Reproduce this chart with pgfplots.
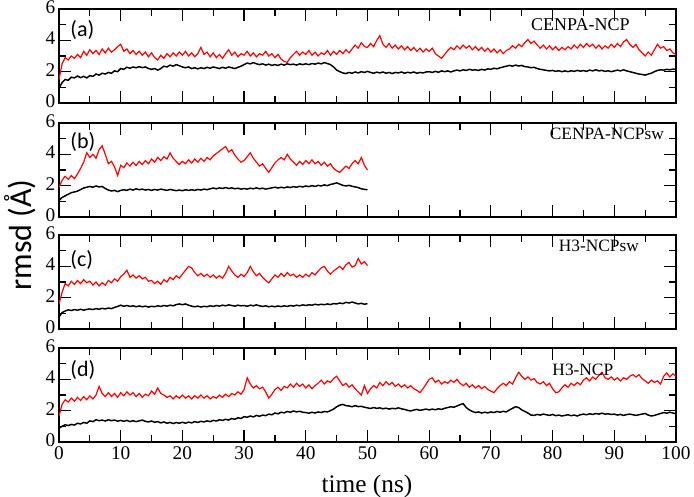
\documentclass[border=0pt]{standalone}
\usepackage{pgfplots}
\usepackage{pgfplotstable}
\pgfplotsset{compat=1.18}
\usepackage{fontspec}
\setmainfont{Liberation Serif}
\newfontfamily\calfont{Carlito}

\pgfplotstableread[row sep=\\]{
t r k\\
0 1.5 0.95\\ 0.5 2.5 1.3\\ 1 2.9 1.5\\ 1.5 2.75 1.45\\ 2 3.0 1.65\\ 2.5 2.85 1.6\\ 3 3.1 1.72\\ 3.5 2.9 1.62\\ 4 3.3 1.7\\ 4.5 3.05 1.6\\
5 3.4 1.75\\ 5.5 3.15 1.7\\ 6 3.35 1.85\\ 6.5 3.1 1.78\\ 7 3.45 1.9\\ 7.5 3.2 1.85\\ 8 3.5 1.95\\ 8.5 3.25 1.9\\ 9 3.4 2.05\\ 9.5 3.6 2.0\\
10 3.75 2.2\\ 10.5 3.3 2.15\\ 11 3.45 2.28\\ 11.5 3.15 2.22\\ 12 3.35 2.3\\ 12.5 3.1 2.25\\ 13 3.3 2.32\\ 13.5 3.05 2.26\\ 14 3.25 2.3\\ 14.5 2.95 2.2\\
15 3.2 2.15\\ 15.5 2.9 2.2\\ 16 2.75 2.1\\ 16.5 3.05 2.2\\ 17 2.85 2.35\\ 17.5 3.15 2.3\\ 18 2.95 2.42\\ 18.5 3.2 2.35\\ 19 3.0 2.45\\ 19.5 3.25 2.38\\
20 3.05 2.3\\ 20.5 3.3 2.25\\ 21 3.0 2.3\\ 21.5 3.2 2.2\\ 22 2.95 2.25\\ 22.5 3.15 2.18\\ 23 3.55 2.25\\ 23.5 3.1 2.2\\ 24 3.25 2.28\\ 24.5 2.95 2.22\\
25 3.2 2.3\\ 25.5 2.9 2.25\\ 26 3.1 2.2\\ 26.5 2.85 2.28\\ 27 3.15 2.22\\ 27.5 3.4 2.3\\ 28 3.05 2.25\\ 28.5 3.25 2.2\\ 29 2.95 2.28\\ 29.5 3.15 2.35\\
30 3.05 2.45\\ 30.5 3.3 2.55\\ 31 3.0 2.5\\ 31.5 3.2 2.58\\ 32 2.95 2.5\\ 32.5 3.15 2.45\\ 33 3.05 2.5\\ 33.5 3.3 2.42\\ 34 3.0 2.48\\ 34.5 3.15 2.4\\
35 2.9 2.45\\ 35.5 3.1 2.4\\ 36 2.8 2.48\\ 36.5 2.65 2.42\\ 37 2.6 2.5\\ 37.5 2.9 2.45\\ 38 3.1 2.48\\ 38.5 3.3 2.42\\ 39 3.05 2.5\\ 39.5 3.25 2.45\\
40 3.1 2.5\\ 40.5 3.35 2.45\\ 41 3.05 2.52\\ 41.5 3.25 2.48\\ 42 3.0 2.55\\ 42.5 3.2 2.5\\ 43 3.1 2.58\\ 43.5 3.35 2.52\\ 44 3.05 2.45\\ 44.5 3.3 2.3\\
45 3.1 2.1\\ 45.5 3.35 2.0\\ 46 3.15 1.92\\ 46.5 3.4 1.88\\ 47 3.2 1.95\\ 47.5 3.45 1.9\\ 48 3.7 1.98\\ 48.5 3.5 1.92\\ 49 3.85 2.0\\ 49.5 3.6 1.95\\
50 3.55 2.02\\ 50.5 3.8 1.95\\ 51 3.6 1.9\\ 51.5 4.0 1.97\\ 52 4.3 1.92\\ 52.5 3.75 1.98\\ 53 3.55 1.9\\ 53.5 3.8 1.95\\ 54 3.5 1.88\\ 54.5 3.7 1.95\\
55 3.45 1.92\\ 55.5 3.65 1.98\\ 56 3.4 1.9\\ 56.5 3.6 1.96\\ 57 3.35 1.92\\ 57.5 3.55 1.98\\ 58 3.3 1.9\\ 58.5 3.5 1.95\\ 59 3.25 1.92\\ 59.5 3.45 1.98\\
60 3.3 2.0\\ 60.5 3.5 1.95\\ 61 3.15 2.02\\ 61.5 3.0 1.96\\ 62 2.85 2.05\\ 62.5 3.1 2.0\\ 63 3.35 2.05\\ 63.5 3.55 1.98\\ 64 3.4 2.05\\ 64.5 3.65 2.1\\
65 3.45 2.05\\ 65.5 3.7 2.12\\ 66 3.5 2.08\\ 66.5 3.65 2.15\\ 67 3.4 2.1\\ 67.5 3.6 2.12\\ 68 3.35 2.08\\ 68.5 3.55 2.15\\ 69 3.3 2.1\\ 69.5 3.5 2.18\\
70 3.25 2.15\\ 70.5 3.45 2.22\\ 71 3.2 2.18\\ 71.5 3.4 2.25\\ 72 3.15 2.3\\ 72.5 3.35 2.35\\ 73 3.45 2.4\\ 73.5 3.65 2.35\\ 74 3.5 2.42\\ 74.5 3.75 2.36\\
75 3.6 2.4\\ 75.5 3.85 2.32\\ 76 4.05 2.3\\ 76.5 3.8 2.25\\ 77 3.95 2.28\\ 77.5 3.7 2.2\\ 78 3.5 2.15\\ 78.5 3.7 2.12\\ 79 3.45 2.08\\ 79.5 3.65 2.05\\
80 3.4 2.08\\ 80.5 3.6 2.02\\ 81 3.35 2.06\\ 81.5 3.55 2.0\\ 82 3.4 2.05\\ 82.5 3.6 2.0\\ 83 3.45 2.06\\ 83.5 3.7 2.02\\ 84 3.5 2.08\\ 84.5 3.75 2.03\\
85 3.55 2.07\\ 85.5 3.8 2.02\\ 86 3.6 2.1\\ 86.5 3.75 2.05\\ 87 3.5 2.12\\ 87.5 3.7 2.05\\ 88 3.45 2.08\\ 88.5 3.65 2.02\\ 89 3.5 2.06\\ 89.5 3.75 2.0\\
90 3.55 2.05\\ 90.5 3.8 2.1\\ 91 3.6 2.05\\ 91.5 3.9 2.12\\ 92 4.05 2.05\\ 92.5 3.75 2.0\\ 93 3.55 1.95\\ 93.5 3.75 1.9\\ 94 3.4 1.85\\ 94.5 3.2 1.82\\
95 3.0 1.78\\ 95.5 3.25 1.85\\ 96 3.05 1.9\\ 96.5 3.4 2.0\\ 97 3.75 2.08\\ 97.5 3.5 2.12\\ 98 3.6 2.1\\ 98.5 3.35 2.15\\ 99 3.45 2.12\\ 99.5 3.2 2.16\\
100 3.1 2.15\\
}\tabA

\pgfplotstableread[row sep=\\]{
t r k\\
0 1.9 1.05\\ 0.5 2.35 1.25\\ 1 2.6 1.35\\ 1.5 2.4 1.45\\ 2 2.65 1.55\\ 2.5 2.45 1.6\\ 3 2.75 1.65\\ 3.5 3.1 1.75\\ 4 3.5 1.85\\ 4.5 4.1 1.9\\
5 3.8 1.95\\ 5.5 4.0 1.9\\ 6 3.75 1.98\\ 6.5 4.3 1.92\\ 7 4.55 1.95\\ 7.5 4.0 1.82\\ 8 3.4 1.72\\ 8.5 3.55 1.66\\ 9 3.2 1.7\\ 9.5 2.65 1.62\\
10 3.3 1.7\\ 10.5 3.15 1.74\\ 11 3.45 1.7\\ 11.5 3.25 1.78\\ 12 3.5 1.72\\ 12.5 3.3 1.8\\ 13 3.55 1.74\\ 13.5 3.35 1.78\\ 14 3.6 1.72\\ 14.5 3.4 1.76\\
15 3.7 1.7\\ 15.5 3.5 1.76\\ 16 3.8 1.72\\ 16.5 3.6 1.78\\ 17 3.85 1.74\\ 17.5 3.7 1.7\\ 18 4.1 1.76\\ 18.5 3.75 1.72\\ 19 3.55 1.68\\ 19.5 3.35 1.72\\
20 3.55 1.68\\ 20.5 3.4 1.74\\ 21 3.65 1.7\\ 21.5 3.45 1.74\\ 22 3.7 1.7\\ 22.5 3.5 1.76\\ 23 3.75 1.72\\ 23.5 3.55 1.78\\ 24 3.8 1.74\\ 24.5 3.65 1.8\\
25 3.9 1.85\\ 25.5 4.05 1.8\\ 26 4.2 1.86\\ 26.5 4.35 1.82\\ 27 4.5 1.88\\ 27.5 4.15 1.82\\ 28 4.3 1.86\\ 28.5 3.95 1.8\\ 29 3.7 1.84\\ 29.5 3.5 1.78\\
30 3.6 1.82\\ 30.5 3.85 1.78\\ 31 4.1 1.84\\ 31.5 3.75 1.8\\ 32 3.5 1.86\\ 32.5 3.25 1.8\\ 33 3.4 1.84\\ 33.5 3.1 1.78\\ 34 2.85 1.82\\ 34.5 3.15 1.86\\
35 3.45 1.9\\ 35.5 3.65 1.85\\ 36 3.8 1.9\\ 36.5 3.65 1.86\\ 37 4.0 1.92\\ 37.5 3.7 1.88\\ 38 3.5 1.94\\ 38.5 3.3 1.9\\ 39 3.55 1.96\\ 39.5 3.35 1.92\\
40 3.6 1.98\\ 40.5 3.4 1.94\\ 41 3.65 2.0\\ 41.5 3.4 1.95\\ 42 3.55 2.02\\ 42.5 3.3 1.98\\ 43 3.5 2.05\\ 43.5 3.25 2.0\\ 44 3.4 2.08\\ 44.5 3.1 2.12\\
45 2.95 2.18\\ 45.5 2.85 2.1\\ 46 3.05 2.02\\ 46.5 3.25 1.98\\ 47 3.1 2.02\\ 47.5 3.4 1.96\\ 48 3.6 1.92\\ 48.5 3.4 1.88\\ 49 3.8 1.8\\ 49.5 3.3 1.76\\
50 3.0 1.75\\
}\tabB

\pgfplotstableread[row sep=\\]{
t r k\\
0 1.6 0.75\\ 0.5 2.35 1.05\\ 1 2.9 1.15\\ 1.5 2.75 1.22\\ 2 3.05 1.18\\ 2.5 2.85 1.24\\ 3 3.1 1.2\\ 3.5 2.9 1.26\\ 4 3.15 1.2\\ 4.5 2.95 1.25\\
5 3.05 1.28\\ 5.5 2.8 1.24\\ 6 3.0 1.3\\ 6.5 2.75 1.26\\ 7 2.95 1.32\\ 7.5 2.8 1.28\\ 8 3.1 1.34\\ 8.5 2.95 1.3\\ 9 3.2 1.38\\ 9.5 3.05 1.44\\
10 3.35 1.52\\ 10.5 3.5 1.45\\ 11 3.75 1.5\\ 11.5 3.3 1.44\\ 12 3.45 1.48\\ 12.5 3.25 1.42\\ 13 3.4 1.47\\ 13.5 3.2 1.42\\ 14 3.3 1.46\\ 14.5 3.05 1.4\\
15 3.1 1.45\\ 15.5 2.9 1.42\\ 16 3.05 1.48\\ 16.5 2.85 1.44\\ 17 3.15 1.5\\ 17.5 3.0 1.46\\ 18 3.3 1.52\\ 18.5 3.15 1.48\\ 19 3.4 1.56\\ 19.5 3.25 1.6\\
20 3.5 1.55\\ 20.5 3.75 1.6\\ 21 4.0 1.52\\ 21.5 3.9 1.46\\ 22 3.6 1.42\\ 22.5 3.4 1.46\\ 23 3.55 1.4\\ 23.5 3.35 1.45\\ 24 3.5 1.42\\ 24.5 3.3 1.48\\
25 3.45 1.44\\ 25.5 3.25 1.5\\ 26 3.4 1.46\\ 26.5 3.25 1.52\\ 27 3.55 1.48\\ 27.5 4.0 1.54\\ 28 3.7 1.5\\ 28.5 3.45 1.46\\ 29 3.3 1.52\\ 29.5 3.5 1.48\\
30 3.35 1.5\\ 30.5 3.6 1.45\\ 31 4.0 1.52\\ 31.5 3.65 1.48\\ 32 3.4 1.54\\ 32.5 3.55 1.48\\ 33 3.3 1.44\\ 33.5 3.1 1.48\\ 34 2.95 1.42\\ 34.5 3.2 1.46\\
35 3.45 1.42\\ 35.5 3.3 1.47\\ 36 3.55 1.43\\ 36.5 3.35 1.48\\ 37 3.6 1.44\\ 37.5 3.4 1.5\\ 38 3.5 1.46\\ 38.5 3.3 1.52\\ 39 3.45 1.48\\ 39.5 3.3 1.54\\
40 3.5 1.5\\ 40.5 3.35 1.55\\ 41 3.6 1.52\\ 41.5 3.45 1.58\\ 42 3.7 1.54\\ 42.5 3.9 1.58\\ 43 4.0 1.55\\ 43.5 3.7 1.6\\ 44 3.5 1.56\\ 44.5 3.7 1.62\\
45 3.85 1.6\\ 45.5 4.0 1.66\\ 46 3.8 1.62\\ 46.5 4.1 1.7\\ 47 4.25 1.66\\ 47.5 3.95 1.72\\ 48 4.05 1.66\\ 48.5 4.5 1.6\\ 49 4.15 1.64\\ 49.5 4.3 1.58\\
50 4.05 1.62\\
}\tabC

\pgfplotstableread[row sep=\\]{
t r k\\
0 1.65 0.88\\ 0.5 2.4 1.0\\ 1 2.7 1.1\\ 1.5 2.55 1.05\\ 2 2.8 1.12\\ 2.5 2.6 1.08\\ 3 2.85 1.2\\ 3.5 2.65 1.15\\ 4 2.9 1.25\\ 4.5 2.7 1.2\\
5 2.95 1.35\\ 5.5 2.75 1.3\\ 6 3.0 1.42\\ 6.5 3.55 1.36\\ 7 3.1 1.4\\ 7.5 2.9 1.34\\ 8 3.15 1.42\\ 8.5 2.9 1.36\\ 9 3.1 1.4\\ 9.5 2.85 1.33\\
10 3.15 1.38\\ 10.5 2.95 1.32\\ 11 3.2 1.38\\ 11.5 3.0 1.3\\ 12 3.15 1.36\\ 12.5 2.9 1.3\\ 13 3.1 1.35\\ 13.5 2.85 1.4\\ 14 3.05 1.32\\ 14.5 2.95 1.28\\
15 3.25 1.34\\ 15.5 3.05 1.26\\ 16 3.45 1.3\\ 16.5 3.1 1.22\\ 17 3.0 1.28\\ 17.5 2.85 1.2\\ 18 2.95 1.25\\ 18.5 2.75 1.18\\ 19 2.95 1.24\\ 19.5 2.8 1.2\\
20 3.0 1.26\\ 20.5 2.8 1.2\\ 21 2.95 1.27\\ 21.5 2.75 1.22\\ 22 2.95 1.3\\ 22.5 2.8 1.25\\ 23 3.0 1.32\\ 23.5 2.8 1.28\\ 24 2.95 1.35\\ 24.5 2.75 1.3\\
25 2.9 1.38\\ 25.5 2.8 1.34\\ 26 3.0 1.42\\ 26.5 2.85 1.38\\ 27 3.05 1.45\\ 27.5 2.9 1.4\\ 28 3.1 1.5\\ 28.5 3.0 1.45\\ 29 3.2 1.55\\ 29.5 3.05 1.5\\
30 3.35 1.62\\ 30.5 4.1 1.58\\ 31 3.7 1.66\\ 31.5 3.45 1.6\\ 32 3.6 1.7\\ 32.5 3.4 1.64\\ 33 3.5 1.72\\ 33.5 3.2 1.68\\ 34 2.8 1.78\\ 34.5 3.05 1.74\\
35 3.35 1.85\\ 35.5 3.5 1.8\\ 36 3.3 1.9\\ 36.5 3.55 1.86\\ 37 3.45 1.95\\ 37.5 3.7 1.9\\ 38 3.5 1.98\\ 38.5 3.75 1.92\\ 39 3.55 1.96\\ 39.5 3.7 1.9\\
40 3.45 1.88\\ 40.5 3.65 1.84\\ 41 3.4 1.9\\ 41.5 3.6 1.85\\ 42 3.75 1.92\\ 42.5 3.95 1.88\\ 43 3.7 1.95\\ 43.5 3.9 1.92\\ 44 3.8 2.0\\ 44.5 4.05 2.1\\
45 4.2 2.25\\ 45.5 3.9 2.35\\ 46 3.6 2.4\\ 46.5 3.75 2.32\\ 47 3.5 2.3\\ 47.5 3.65 2.25\\ 48 3.4 2.32\\ 48.5 3.2 2.26\\ 49 3.0 2.28\\ 49.5 3.6 2.22\\
50 3.1 2.18\\ 50.5 3.4 2.14\\ 51 3.6 2.2\\ 51.5 3.45 2.15\\ 52 3.8 2.18\\ 52.5 3.6 2.12\\ 53 3.85 2.16\\ 53.5 3.65 2.1\\ 54 3.8 2.15\\ 54.5 3.55 2.12\\
55 3.7 2.18\\ 55.5 3.5 2.12\\ 56 3.65 2.08\\ 56.5 3.45 2.02\\ 57 3.6 1.98\\ 57.5 3.4 2.04\\ 58 3.3 2.08\\ 58.5 3.15 2.02\\ 59 3.4 2.06\\ 59.5 3.7 2.1\\
60 4.0 2.05\\ 60.5 4.1 2.1\\ 61 3.8 2.06\\ 61.5 3.95 2.12\\ 62 3.7 2.08\\ 62.5 3.85 2.15\\ 63 3.75 2.2\\ 63.5 3.95 2.25\\ 64 3.8 2.22\\ 64.5 4.0 2.3\\
65 3.75 2.38\\ 65.5 3.6 2.45\\ 66 3.75 2.2\\ 66.5 3.5 2.05\\ 67 3.65 1.95\\ 67.5 3.45 1.88\\ 68 3.6 1.92\\ 68.5 3.4 1.85\\ 69 3.55 1.9\\ 69.5 3.35 1.86\\
70 3.25 1.92\\ 70.5 3.15 1.88\\ 71 3.4 1.95\\ 71.5 3.6 1.9\\ 72 3.75 1.96\\ 72.5 3.6 1.92\\ 73 3.85 2.05\\ 73.5 3.7 2.15\\ 74 4.1 2.25\\ 74.5 4.45 2.2\\
75 4.2 2.05\\ 75.5 4.0 1.95\\ 76 4.15 1.85\\ 76.5 3.95 1.72\\ 77 4.05 1.7\\ 77.5 3.8 1.76\\ 78 3.7 1.72\\ 78.5 3.85 1.78\\ 79 3.6 1.74\\ 79.5 3.75 1.7\\
80 3.4 1.76\\ 80.5 3.15 1.68\\ 81 3.2 1.72\\ 81.5 3.45 1.66\\ 82 3.65 1.7\\ 82.5 3.5 1.74\\ 83 3.75 1.68\\ 83.5 3.6 1.72\\ 84 3.8 1.66\\ 84.5 3.65 1.74\\
85 3.95 1.78\\ 85.5 4.1 1.74\\ 86 3.9 1.8\\ 86.5 4.15 1.76\\ 87 4.0 1.82\\ 87.5 4.25 1.78\\ 88 4.45 1.84\\ 88.5 4.1 1.78\\ 89 4.0 1.8\\ 89.5 4.15 1.76\\
90 3.95 1.78\\ 90.5 4.1 1.72\\ 91 3.9 1.76\\ 91.5 4.1 1.7\\ 92 4.0 1.75\\ 92.5 4.2 1.78\\ 93 4.3 1.74\\ 93.5 4.15 1.7\\ 94 4.3 1.74\\ 94.5 4.05 1.78\\
95 3.9 1.82\\ 95.5 3.75 1.72\\ 96 3.95 1.66\\ 96.5 3.8 1.7\\ 97 3.9 1.76\\ 97.5 3.7 1.82\\ 98 4.2 1.88\\ 98.5 4.4 1.84\\ 99 4.15 1.9\\ 99.5 4.35 1.85\\
100 4.2 1.8\\
}\tabD

\pgfplotsset{
  panel/.style={
    scale only axis, width=462.75pt, height=70.5pt,
    xmin=0, xmax=100, ymin=0, ymax=6,
    xtick={0,10,20,30,40,50,60,70,80,90,100},
    minor xtick={5,15,25,35,45,55,65,75,85,95},
    ytick={0,2,4,6}, minor ytick={1,3,5},
    yticklabels={0,2,4,6},
    tick align=inside,
    major tick length=9pt, minor tick length=5pt,
    every tick/.style={black, line width=0.9pt},
    axis line style={line width=1pt},
    every tick label/.append style={font=\rmfamily\fontsize{14.5}{15}\selectfont},
    yticklabel style={inner xsep=2.5pt, inner ysep=0pt, text height=0.66em, text depth=0pt},
    anchor=south west,
  },
  redl/.style={red, line width=0.9pt, no markers},
  blkl/.style={black, line width=1.1pt, no markers},
}

\begin{document}
\begin{tikzpicture}
\useasboundingbox (-44.25pt,-295.5pt) rectangle (476.25pt,77.25pt);

\begin{axis}[panel, at={(0pt,0pt)}, xticklabels={}]
\addplot[redl] table[x=t, y=r] {\tabA};
\addplot[blkl] table[x=t, y=k] {\tabA};
\node[anchor=west, font=\calfont\fontsize{16.5}{18}\selectfont] at (rel axis cs:0.011,0.78) {(a)};
\node[font=\fontsize{13.5}{14}\selectfont] at (rel axis cs:0.845,0.83) {CENPA-NCP};
\end{axis}

\begin{axis}[panel, at={(0pt,-85.5pt)}, xticklabels={}]
\addplot[redl] table[x=t, y=r] {\tabB};
\addplot[blkl] table[x=t, y=k] {\tabB};
\node[anchor=west, font=\calfont\fontsize{16.5}{18}\selectfont] at (rel axis cs:0.011,0.80) {(b)};
\node[font=\fontsize{13}{14}\selectfont] at (rel axis cs:0.888,0.89) {CENPA-NCPsw};
\end{axis}

\begin{axis}[panel, at={(0pt,-169.5pt)}, xticklabels={}]
\addplot[redl] table[x=t, y=r] {\tabC};
\addplot[blkl] table[x=t, y=k] {\tabC};
\node[anchor=west, font=\calfont\fontsize{16.5}{18}\selectfont] at (rel axis cs:0.011,0.73) {(c)};
\node[font=\fontsize{13}{14}\selectfont] at (rel axis cs:0.875,0.89) {H3-NCPsw};
\end{axis}

\begin{axis}[panel, at={(0pt,-254.25pt)}, xticklabels={0,10,20,30,40,50,60,70,80,90,100}]
\addplot[redl] table[x=t, y=r] {\tabD};
\addplot[blkl] table[x=t, y=k] {\tabD};
\node[anchor=west, font=\calfont\fontsize{16.5}{18}\selectfont] at (rel axis cs:0.011,0.77) {(d)};
\node[font=\fontsize{13}{14}\selectfont] at (rel axis cs:0.849,0.77) {H3-NCP};
\end{axis}

\node[rotate=90, font=\calfont\fontsize{24}{26}\selectfont] at (-29.25pt,-99pt) {rmsd (Å)};
\node[font=\fontsize{19}{20}\selectfont] at (231pt,-287.25pt) {time (ns)};
\end{tikzpicture}
\end{document}
